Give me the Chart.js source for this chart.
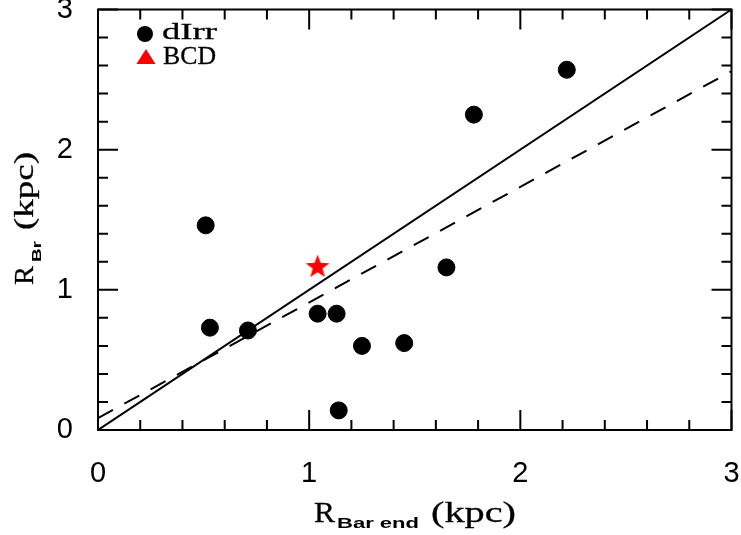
<!DOCTYPE html>
<html lang="en">
<head>
    <meta charset="UTF-8">
    <title>R_Br vs R_Bar end</title>
    <script src="https://cdn.jsdelivr.net/npm/chart.js"></script>
    <style>
        html, body { margin: 0; padding: 0; background: #fff; }
        #wrap { position: relative; width: 741px; height: 535px; }
    </style>
</head>
<body>
    <div id="wrap"><canvas id="chart"></canvas></div>

    <script>
        // dIrr galaxies
        const dirrX = [0.51, 0.53, 0.71, 1.04, 1.13, 1.14, 1.25, 1.45, 1.65, 1.78, 2.22];
        const dirrY = [1.46, 0.73, 0.71, 0.83, 0.83, 0.14, 0.60, 0.62, 1.16, 2.25, 2.57];
        // BCD
        const bcdX = [1.04];
        const bcdY = [1.17];
        // one-to-one line and fitted line (end points)
        const lineX = [0, 3];
        const unityY = [0, 3];
        const fitY = [0.085, 2.56];
        const tickValues = [0, 1, 2, 3];

        const toPoints = (xs, ys) => xs.map((x, i) => ({ x, y: ys[i] }));

        // red filled star for the BCD marker
        const starImg = document.createElement('canvas');
        starImg.width = 26; starImg.height = 26;
        (() => {
            const c = starImg.getContext('2d');
            c.fillStyle = '#ff0000';
            c.beginPath();
            for (let i = 0; i < 10; i++) {
                const r = i % 2 === 0 ? 12.5 : 5.2;
                const a = -Math.PI / 2 + i * Math.PI / 5;
                const px = 13 + r * Math.cos(a), py = 14 + r * Math.sin(a);
                i === 0 ? c.moveTo(px, py) : c.lineTo(px, py);
            }
            c.closePath();
            c.fill();
        })();

        // draw text stretched to a given width
        function fitText(ctx, text, x, y, font, w, heavy) {
            ctx.font = font;
            const m = ctx.measureText(text).width;
            ctx.save();
            ctx.translate(x, y);
            ctx.scale(w / m, 1);
            ctx.fillText(text, 0, 0);
            if (heavy) {
                ctx.lineWidth = heavy;
                ctx.strokeStyle = ctx.fillStyle;
                ctx.strokeText(text, 0, 0);
            }
            ctx.restore();
        }

        const frameTicks = {
            id: 'frameTicks',
            afterDraw(chart) {
                const { ctx, chartArea: a, scales: { x, y } } = chart;
                ctx.save();
                ctx.strokeStyle = '#000';
                ctx.lineWidth = 2;
                ctx.strokeRect(a.left, a.top, a.right - a.left, a.bottom - a.top);
                ctx.beginPath();
                for (let i = 0; i <= 15; i++) {
                    const v = i * 0.2;
                    const len = i % 5 === 0 ? 20 : 10;
                    const px = x.getPixelForValue(v);
                    ctx.moveTo(px, a.bottom); ctx.lineTo(px, a.bottom - len);
                    ctx.moveTo(px, a.top); ctx.lineTo(px, a.top + len);
                    const py = y.getPixelForValue(v);
                    ctx.moveTo(a.left, py); ctx.lineTo(a.left + len, py);
                    ctx.moveTo(a.right, py); ctx.lineTo(a.right - len, py);
                }
                ctx.stroke();

                // axis titles
                ctx.fillStyle = '#000';
                ctx.textBaseline = 'alphabetic';
                ctx.textAlign = 'left';
                fitText(ctx, 'R', 314, 522, '29px "Liberation Serif"', 21, 0.3);
                fitText(ctx, 'Bar end', 337, 528, 'bold 14px "Liberation Sans"', 82);
                fitText(ctx, '(kpc)', 431, 522, '29px "Liberation Serif"', 85, 0.3);

                ctx.save();
                ctx.translate(33, 285);
                ctx.rotate(-Math.PI / 2);
                fitText(ctx, 'R', 0, 0, '27px "Liberation Serif"', 19, 0.3);
                fitText(ctx, 'Br', 23, 8, 'bold 12px "Liberation Sans"', 21);
                fitText(ctx, '(kpc)', 55, 0, '27px "Liberation Serif"', 78, 0.3);
                ctx.restore();

                // legend
                ctx.beginPath();
                ctx.arc(145, 34, 8, 0, Math.PI * 2);
                ctx.fill();
                fitText(ctx, 'dIrr', 162, 39, '24px "Liberation Serif"', 55, 0.3);
                ctx.fillStyle = '#ff0000';
                ctx.beginPath();
                ctx.moveTo(146, 49); ctx.lineTo(155.5, 64); ctx.lineTo(136.5, 64);
                ctx.closePath();
                ctx.fill();
                ctx.fillStyle = '#000';
                fitText(ctx, 'BCD', 163, 64, '25px "Liberation Serif"', 53, 0.3);
                ctx.restore();
            }
        };

        new Chart(document.getElementById('chart'), {
            type: 'scatter',
            data: {
                datasets: [
                    {
                        type: 'line',
                        data: toPoints(lineX, unityY),
                        borderColor: '#000',
                        borderWidth: 2,
                        pointRadius: 0,
                        fill: false,
                    },
                    {
                        type: 'line',
                        data: toPoints(lineX, fitY),
                        borderColor: '#000',
                        borderWidth: 2,
                        borderDash: [17, 13],
                        pointRadius: 0,
                        fill: false,
                    },
                    {
                        label: 'dIrr',
                        data: toPoints(dirrX, dirrY),
                        backgroundColor: '#000',
                        borderColor: '#000',
                        pointRadius: 8.5,
                    },
                    {
                        label: 'BCD',
                        data: toPoints(bcdX, bcdY),
                        pointStyle: starImg,
                    },
                ],
            },
            options: {
                responsive: true,
                maintainAspectRatio: false,
                animation: false,
                layout: { padding: { left: 0, top: 8, right: 9, bottom: 0 } },
                plugins: { legend: { display: false }, tooltip: { enabled: false } },
                scales: {
                    x: {
                        type: 'linear',
                        min: 0, max: 3,
                        grid: { display: false },
                        border: { display: false },
                        afterBuildTicks: s => { s.ticks = tickValues.map(v => ({ value: v })); },
                        afterFit: s => { s.height = 105; s.paddingLeft = 0; s.paddingRight = 0; },
                        ticks: {
                            padding: 19,
                            color: '#000',
                            font: { family: '"Liberation Sans"', size: 29 },
                            maxRotation: 0,
                        },
                    },
                    y: {
                        type: 'linear',
                        min: 0, max: 3,
                        grid: { display: false },
                        border: { display: false },
                        afterBuildTicks: s => { s.ticks = tickValues.map(v => ({ value: v })); },
                        afterFit: s => { s.width = 98; s.paddingTop = 0; s.paddingBottom = 0; },
                        ticks: {
                            padding: 17,
                            color: '#000',
                            font: { family: '"Liberation Sans"', size: 29 },
                        },
                    },
                },
            },
            plugins: [frameTicks],
        });
    </script>
</body>
</html>
